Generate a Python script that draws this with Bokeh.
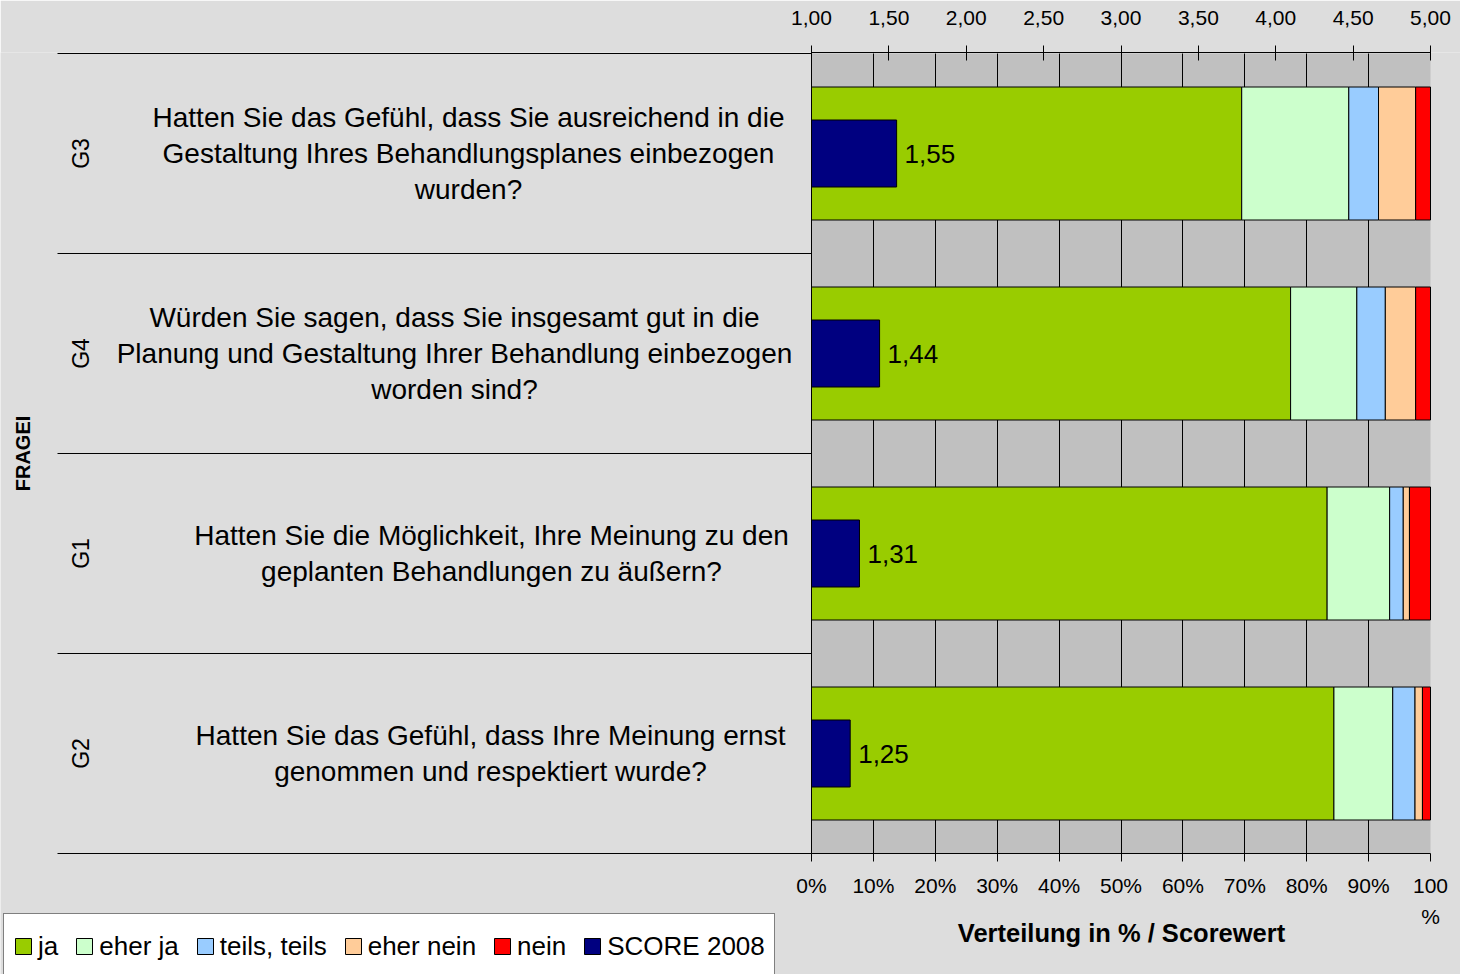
from bokeh.plotting import figure
from bokeh.models import (Range1d, LinearAxis, FixedTicker, ColumnDataSource,
                          Label, LabelSet, Legend, LegendItem, BoxAnnotation)
from bokeh.core.properties import value
from bokeh.embed import file_html
from bokeh.resources import INLINE
import math

# ---------------- data ----------------
codes = ["G3", "G4", "G1", "G2"]
questions = [
    "Hatten Sie das Gefühl, dass Sie ausreichend in die\nGestaltung Ihres Behandlungsplanes einbezogen\nwurden?",
    "Würden Sie sagen, dass Sie insgesamt gut in die\nPlanung und Gestaltung Ihrer Behandlung einbezogen\nworden sind?",
    "Hatten Sie die Möglichkeit, Ihre Meinung zu den\ngeplanten Behandlungen zu äußern?",
    "Hatten Sie das Gefühl, dass Ihre Meinung ernst\ngenommen und respektiert wurde?",
]
categories = ["ja", "eher ja", "teils, teils", "eher nein", "nein"]
ja = [69.5, 77.4, 83.3, 84.4]
eher_ja = [17.3, 10.7, 10.1, 9.5]
teils_teils = [4.8, 4.6, 2.2, 3.6]
eher_nein = [6.0, 4.9, 1.0, 1.2]
nein = [2.4, 2.4, 3.4, 1.3]
score_label = "SCORE 2008"
score_2008 = [1.55, 1.44, 1.31, 1.25]

pct_ticks = [0, 10, 20, 30, 40, 50, 60, 70, 80, 90, 100]
pct_tick_labels = ["0%", "10%", "20%", "30%", "40%", "50%", "60%", "70%", "80%", "90%", "100\n%"]
score_ticks = [1.0, 1.5, 2.0, 2.5, 3.0, 3.5, 4.0, 4.5, 5.0]
score_tick_labels = ["1,00", "1,50", "2,00", "2,50", "3,00", "3,50", "4,00", "4,50", "5,00"]
x_title = "Verteilung in % / Scorewert"
y_title = "FRAGEI"

# ---------------- layout / style ----------------
W, H = 1460, 974
SEP_LEFT, PLOT_LEFT, PLOT_RIGHT = 57, 811, 1430
TOP, BOTTOM = 52, 853          # frame top (1px above row top), plot bottom
ROW_PX = 200                   # px per row

colors = ["#99CC00", "#CCFFCC", "#99CCFF", "#FFCC99", "#FF0000"]
score_color = "#000080"
FONT = "Liberation Sans"
question_centers = [468, 454, 491, 490]   # canvas px
code_center = 80
ytitle_center = 22
xtitle_center = (1121, 932)

n = len(codes)
ys = [n - i - 0.5 for i in range(n)]
keys = ["ja", "eher_ja", "teils_teils", "eher_nein", "nein"]
src = ColumnDataSource(dict(
    y=ys, ja=ja, eher_ja=eher_ja, teils_teils=teils_teils, eher_nein=eher_nein, nein=nein,
    score=score_2008, score_text=[f"{s:.2f}".replace(".", ",") for s in score_2008],
))

pct0, pct1 = pct_ticks[0], pct_ticks[-1]
sc0, sc1 = score_ticks[0], score_ticks[-1]
plot_w = PLOT_RIGHT - PLOT_LEFT


def px_range(lo, hi):
    # data range whose lo..hi maps to PLOT_LEFT..PLOT_RIGHT on a frame spanning 0..W
    k = (hi - lo) / plot_w
    return Range1d(lo - PLOT_LEFT * k, hi + (W - PLOT_RIGHT) * k)


def x_of_px(px):
    return pct0 + (px - PLOT_LEFT) * (pct1 - pct0) / plot_w


p = figure(width=W, height=H, output_backend="svg", toolbar_location=None,
           x_range=px_range(pct0, pct1),
           y_range=Range1d(-(H - BOTTOM) / ROW_PX, n + (BOTTOM - n * ROW_PX - TOP) / ROW_PX),
           min_border_left=0, min_border_right=0, min_border_top=TOP, min_border_bottom=0)
p.extra_x_ranges = {"score": px_range(sc0, sc1)}
p.background_fill_color = "#DDDDDD"
p.border_fill_color = "#DDDDDD"
p.outline_line_color = None
p.xgrid.visible = False
p.ygrid.visible = False

# plot area background
p.add_layout(BoxAnnotation(left=pct0, right=pct1, bottom=0, top=n, fill_color="#C0C0C0",
                           fill_alpha=1, line_color=None, level="image"))

# stacked bars
rs = p.hbar_stack(keys, y="y", height=0.665, color=colors, line_color="black",
                  line_width=1, source=src)
sr = p.hbar(y="y", left=sc0, right="score", height=0.335, x_range_name="score",
            fill_color=score_color, line_color="black", line_width=1, source=src)

labels = LabelSet(x="score", y="y", text="score_text", x_range_name="score", source=src,
                  x_offset=8, text_baseline="middle", text_align="left",
                  text_font=value(FONT), text_font_size="26px", text_color="black")
p.add_layout(labels)

# bottom axis at y=0
xa = p.xaxis[0]
xa.fixed_location = 0
xa.bounds = (pct0, pct1)
xa.ticker = FixedTicker(ticks=pct_ticks)
xa.major_label_overrides = {t: l for t, l in zip(pct_ticks, pct_tick_labels)}
xa.major_label_text_font = FONT
xa.major_label_text_font_size = "21px"
xa.major_label_text_line_height = 1.35
xa.major_label_text_color = "black"
xa.major_tick_out = 8
xa.major_tick_in = 0
xa.minor_tick_line_color = None
xa.major_label_standoff = 12
xa.axis_line_color = "black"
xa.major_tick_line_color = "black"

# second axis at y=0 whose inward ticks are the vertical grid lines behind the bars
ga = LinearAxis(fixed_location=0, level="underlay", bounds=(pct0, pct1),
                ticker=FixedTicker(ticks=pct_ticks[:-1]), major_tick_in=n * ROW_PX,
                major_tick_out=0, major_tick_line_color="black", minor_tick_line_color=None,
                axis_line_color=None, major_label_text_font_size="0px",
                major_label_text_alpha=0)
p.add_layout(ga, "below")

# top axis
ta = LinearAxis(x_range_name="score", ticker=FixedTicker(ticks=score_ticks), bounds=(sc0, sc1),
                major_label_overrides={t: l for t, l in zip(score_ticks, score_tick_labels)},
                major_label_text_font=FONT, major_label_text_font_size="21px",
                major_label_text_color="black", major_tick_in=8, major_tick_out=7,
                minor_tick_line_color=None, major_label_standoff=21,
                axis_line_color="black", major_tick_line_color="black")
p.add_layout(ta, "above")

# left axis at the separators' start; its inward ticks are the row separators
ya = p.yaxis[0]
ya.fixed_location = x_of_px(SEP_LEFT)
ya.ticker = FixedTicker(ticks=list(range(n + 1)))
ya.major_tick_in = PLOT_LEFT - SEP_LEFT
ya.major_tick_out = 0
ya.major_tick_line_color = "black"
ya.minor_tick_line_color = None
ya.major_label_overrides = {i: "" for i in range(n + 1)}
ya.axis_line_color = None

# titles
p.add_layout(Label(x=xtitle_center[0], x_units="screen", y=H - xtitle_center[1], y_units="screen",
                   text=x_title, text_align="center", text_baseline="middle",
                   text_font=FONT, text_font_style="bold", text_font_size="25.5px",
                   text_color="black"))
p.add_layout(Label(x=ytitle_center, x_units="screen", y=n / 2, y_units="data",
                   text=y_title, angle=math.pi / 2, text_align="center",
                   text_baseline="middle", text_font=FONT, text_font_style="bold",
                   text_font_size="20px", text_color="black"))

# row texts
for i in range(n):
    p.add_layout(Label(x=question_centers[i], x_units="screen", y=ys[i],
                       y_units="data", text=questions[i], text_align="center",
                       text_baseline="middle", text_font=FONT, text_font_size="28px",
                       text_line_height=1.16, text_color="black"))
    p.add_layout(Label(x=code_center, x_units="screen", y=ys[i], y_units="data",
                       text=codes[i], angle=math.pi / 2, text_align="center",
                       text_baseline="middle", text_font=FONT, text_font_size="23px",
                       text_color="black"))

# legend
items = [LegendItem(label=c, renderers=[r]) for c, r in zip(categories, rs)]
items.append(LegendItem(label=score_label, renderers=[sr]))
legend = Legend(items=items, orientation="horizontal", location=(3, H - 915 - 64),
                label_text_font=FONT, label_text_font_size="26px", label_text_color="black",
                glyph_width=20, glyph_height=20, spacing=16, padding=9, margin=0,
                label_height=46, label_standoff=5, border_line_color="black",
                border_line_width=1, background_fill_color="white", background_fill_alpha=1)
p.add_layout(legend)

open("out.html", "w").write(file_html(p, INLINE))
